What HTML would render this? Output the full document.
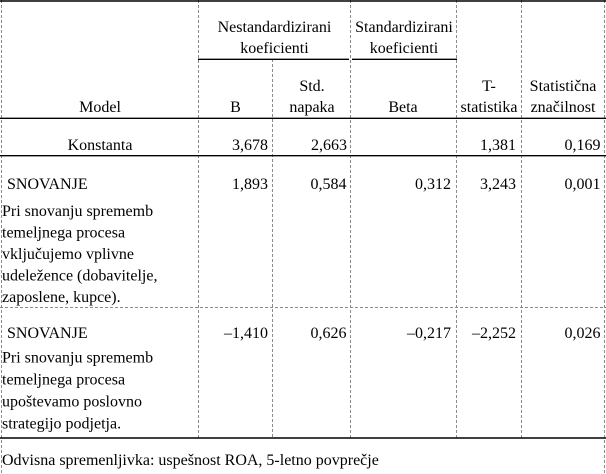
<!DOCTYPE html>
<html>
<head>
<meta charset="utf-8">
<style>
  html,body{margin:0;padding:0;background:#fff;}
  body{width:606px;height:474px;overflow:hidden;}
  svg{display:block;}
  text{font-family:"Liberation Serif","Times New Roman",serif;font-size:16px;fill:#000;}
</style>
</head>
<body>
<svg width="606" height="474" viewBox="0 0 606 474" xmlns="http://www.w3.org/2000/svg">
  <!-- dashed gray grid lines -->
  <g stroke="#8a8a8a" stroke-width="1" stroke-dasharray="3,2" fill="none">
    <line x1="1.5" y1="0" x2="1.5" y2="474"/>
    <line x1="604.5" y1="0" x2="604.5" y2="474"/>
    <line x1="198.5" y1="0" x2="198.5" y2="438"/>
    <line x1="272.5" y1="59" x2="272.5" y2="438"/>
    <line x1="350.5" y1="0" x2="350.5" y2="438"/>
    <line x1="456.5" y1="0" x2="456.5" y2="438"/>
    <line x1="521.5" y1="0" x2="521.5" y2="438"/>
    <line x1="0" y1="307.5" x2="606" y2="307.5"/>
  </g>
  <!-- solid black rules -->
  <g stroke="#000" stroke-width="1.4" fill="none">
    <line x1="0" y1="1" x2="606" y2="1"/>
    <line x1="198" y1="59.3" x2="349" y2="59.3"/>
    <line x1="352" y1="59.3" x2="457" y2="59.3"/>
    <line x1="0" y1="118.3" x2="606" y2="118.3"/>
    <line x1="0" y1="155.7" x2="606" y2="155.7"/>
    <line x1="0" y1="438" x2="606" y2="438"/>
  </g>

  <!-- header -->
  <g text-anchor="middle">
    <text x="274.5" y="32">Nestandardizirani</text>
    <text x="274.5" y="53">koeficienti</text>
    <text x="404" y="32">Standardizirani</text>
    <text x="404" y="53">koeficienti</text>
    <text x="100" y="112">Model</text>
    <text x="235.5" y="112">B</text>
    <text x="312" y="91">Std.</text>
    <text x="312" y="112">napaka</text>
    <text x="403" y="112">Beta</text>
    <text x="489" y="91">T-</text>
    <text x="489" y="112">statistika</text>
    <text x="563" y="91">Statistična</text>
    <text x="563" y="112">značilnost</text>
    <text x="100" y="150">Konstanta</text>
  </g>

  <!-- numbers -->
  <g text-anchor="end">
    <text x="268" y="150">3,678</text>
    <text x="347" y="150">2,663</text>
    <text x="516" y="150">1,381</text>
    <text x="600.5" y="150">0,169</text>

    <text x="268" y="189">1,893</text>
    <text x="346.5" y="189">0,584</text>
    <text x="451" y="189">0,312</text>
    <text x="516" y="189">3,243</text>
    <text x="600.5" y="189">0,001</text>

    <text x="268" y="338">–1,410</text>
    <text x="346.5" y="338">0,626</text>
    <text x="451" y="338">–0,217</text>
    <text x="516" y="338">–2,252</text>
    <text x="600.5" y="338">0,026</text>
  </g>

  <!-- row labels -->
  <text x="7" y="189">SNOVANJE</text>
  <text x="2" y="216">Pri snovanju sprememb</text>
  <text x="2" y="237.5">temeljnega procesa</text>
  <text x="2" y="259">vključujemo vplivne</text>
  <text x="2" y="280.5">udeležence (dobavitelje,</text>
  <text x="2" y="302">zaposlene, kupce).</text>

  <text x="7" y="338">SNOVANJE</text>
  <text x="2" y="362.5">Pri snovanju sprememb</text>
  <text x="2" y="384.5">temeljnega procesa</text>
  <text x="2" y="406.5">upoštevamo poslovno</text>
  <text x="2" y="428.5">strategijo podjetja.</text>

  <text x="2" y="465">Odvisna spremenljivka: uspešnost ROA, 5-letno povprečje</text>
</svg>
</body>
</html>
